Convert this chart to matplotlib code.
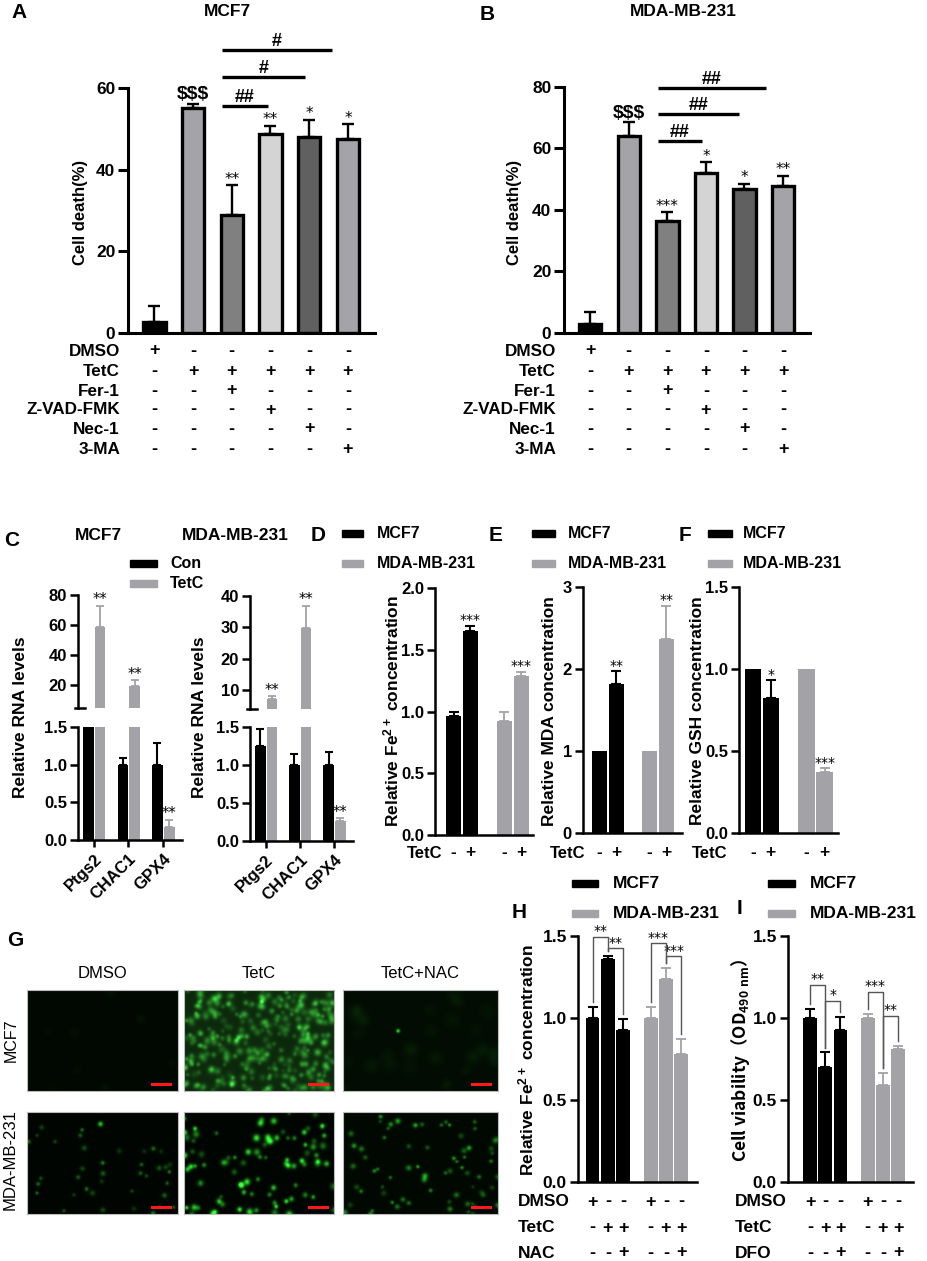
import numpy as np
import matplotlib
matplotlib.use("Agg")
import matplotlib.pyplot as plt
from matplotlib.patches import Rectangle
from matplotlib.transforms import blended_transform_factory

plt.rcParams['font.family'] = ['Liberation Sans', 'DejaVu Sans']
plt.rcParams['font.weight'] = 'bold'
plt.rcParams['mathtext.fontset'] = 'custom'
plt.rcParams['mathtext.rm'] = 'Liberation Sans:bold'
plt.rcParams['mathtext.default'] = 'regular'

W, H = 927, 1261
GRAY = '#a3a3a7'

# ---------------- data ----------------
treat_rows = ["DMSO", "TetC", "Fer-1", "Z-VAD-FMK", "Nec-1", "3-MA"]
treat_signs = [["+", "-", "-", "-", "-", "-"],
               ["-", "+", "+", "+", "+", "+"],
               ["-", "-", "+", "-", "-", "-"],
               ["-", "-", "-", "+", "-", "-"],
               ["-", "-", "-", "-", "+", "-"],
               ["-", "-", "-", "-", "-", "+"]]
bar_colors_ab = ["#000000", "#a4a4a8", "#808080", "#d4d4d4", "#606060", "#a4a4a8"]

mcf7_death = [2.7, 55.2, 29.0, 48.8, 47.9, 47.6]
mcf7_death_err = [4.0, 1.0, 7.2, 2.0, 4.3, 3.5]
mcf7_death_sig = ["", r"\$\$\$", "**", "**", "*", "*"]
mcf7_hash = ["##", "#", "#"]

mda_death = [3.0, 64.0, 36.3, 52.0, 46.8, 47.7]
mda_death_err = [3.8, 4.5, 2.9, 3.6, 1.8, 3.5]
mda_death_sig = ["", r"\$\$\$", "***", "*", "*", "**"]
mda_hash = ["##", "##", "##"]

genes = ["Ptgs2", "CHAC1", "GPX4"]
rna_mcf7_con = [1.5, 1.0, 1.0]
rna_mcf7_con_err = [0.0, 0.09, 0.29]
rna_mcf7_tetc = [59.0, 19.3, 0.17]
rna_mcf7_tetc_err = [13.9, 4.0, 0.10]
rna_mcf7_sig = ["**", "**", "**"]
rna_mda_con = [1.25, 1.0, 1.0]
rna_mda_con_err = [0.22, 0.15, 0.17]
rna_mda_tetc = [7.1, 29.9, 0.265]
rna_mda_tetc_err = [0.9, 7.0, 0.035]
rna_mda_sig = ["**", "**", "**"]

lines = ["MCF7", "MDA-MB-231"]
tetc_signs = ["-", "+", "-", "+"]
fe_conc = [0.963, 1.655, 0.922, 1.288]
fe_conc_err = [0.03, 0.04, 0.075, 0.033]
fe_sig = ["", "***", "", "***"]
mda_conc = [1.0, 1.82, 1.0, 2.36]
mda_conc_err = [0.0, 0.15, 0.0, 0.41]
mda_sig = ["", "**", "", "**"]
gsh_conc = [1.0, 0.826, 1.0, 0.375]
gsh_conc_err = [0.0, 0.105, 0.0, 0.02]
gsh_sig = ["", "*", "", "***"]

nac_rows = ["DMSO", "TetC", "NAC"]
dfo_rows = ["DMSO", "TetC", "DFO"]
rescue_signs = [["+", "-", "-", "+", "-", "-"],
                ["-", "+", "+", "-", "+", "+"],
                ["-", "-", "+", "-", "-", "+"]]
fe_nac = [1.0, 1.36, 0.924, 1.0, 1.236, 0.781]
fe_nac_err = [0.065, 0.02, 0.07, 0.065, 0.067, 0.092]
fe_nac_sig = ["**", "**", "***", "***"]
od_dfo = [1.0, 0.704, 0.924, 1.0, 0.59, 0.812]
od_dfo_err = [0.053, 0.086, 0.081, 0.023, 0.074, 0.02]
od_dfo_sig = ["**", "*", "***", "**"]

# ---------------- helpers ----------------
fig = plt.figure(figsize=(W / 100, H / 100), dpi=100)
fig.patch.set_facecolor('white')


def fx(x):
    return x / W


def fy(y):
    return 1 - y / H


def box(l, t, r, b):
    return fig.add_axes([l / W, 1 - b / H, (r - l) / W, (b - t) / H])


def txt(x, y, s, size=12, ha='center', rot=0, **kw):
    fig.text(fx(x), fy(y), s, ha=ha, va='center', fontsize=size, rotation=rot, **kw)


def style(ax, size=12, lw=1.8, tl=6):
    for s in ('top', 'right'):
        ax.spines[s].set_visible(False)
    for s in ('left', 'bottom'):
        ax.spines[s].set_linewidth(lw)
    ax.tick_params(axis='y', width=lw, length=tl, labelsize=size, pad=2)
    ax.tick_params(axis='x', bottom=False, labelbottom=False)
    ax.patch.set_alpha(0)


def star(ax, x, y, s, size=10, dy=1):
    ax.annotate(s, (x, y), xytext=(0, dy), textcoords='offset points', ha='center',
                va='baseline', fontsize=size, family='DejaVu Sans', fontweight='normal',
                annotation_clip=False)


def legend_pair(px0, px1, tx, ys, size=11):
    for y, c, name in zip(ys, ['k', GRAY], lines):
        fig.add_artist(Rectangle((fx(px0), fy(y + 3.5)), (px1 - px0) / W, 7 / H,
                                 transform=fig.transFigure, color=c))
        txt(tx, y, name, size=size, ha='left')


def sign_rows(ax, xs, names, table, ys, name_x, name_ha, size=12, sign_size=12.5):
    tr = blended_transform_factory(ax.transData, fig.transFigure)
    for name, row, y in zip(names, table, ys):
        txt(name_x, y, name, size=size, ha=name_ha)
        for xv, s in zip(xs, row):
            ax.text(xv, fy(y), s, transform=tr, ha='center', va='center', fontsize=sign_size,
                    clip_on=False)


def up_err(ax, xs, vals, errs, color, lw=1.5, cap=3.3):
    xs = np.asarray(xs, float)
    vals = np.asarray(vals, float)
    errs = np.asarray(errs, float)
    m = errs > 0
    ax.errorbar(xs[m], vals[m], yerr=[np.zeros(m.sum()), errs[m]], fmt='none', ecolor=color,
                elinewidth=lw, capsize=cap, capthick=lw, zorder=3)


# ---------------- A / B : cell death ----------------
def death_panel(rect, ymax, yticks, vals, errs, sig, hashes, hash_y, hash_end,
                title, title_x, ylab_x, name_x):
    ax = box(*rect)
    x = np.arange(len(vals))
    ax.bar(x, vals, 0.58, color=bar_colors_ab, edgecolor='k', linewidth=2.4, zorder=2)
    up_err(ax, x, vals, errs, 'k', lw=1.7, cap=4.3)
    ax.set_xlim(-0.68, 5.7)
    ax.set_ylim(0, ymax)
    ax.set_yticks(yticks)
    style(ax, 12.5, 2.2, 7)
    for xi, v, e, s in zip(x, vals, errs, sig):
        if s.startswith('\\$'):
            ax.annotate(s, (xi, v + e), xytext=(0, 3), textcoords='offset points', ha='center',
                        va='baseline', fontsize=14, annotation_clip=False)
        elif s:
            star(ax, xi, v + e, s, size=11)
    for end, yh, s in zip(hash_end, hash_y, hashes):
        ax.plot([1.75, end], [yh, yh], color='k', lw=2.4, clip_on=False, solid_capstyle='butt')
        ax.annotate(s, ((1.75 + end) / 2, yh), xytext=(0, 3), textcoords='offset points',
                    ha='center', va='baseline', fontsize=13, annotation_clip=False)
    txt(title_x, 12, title, size=12.5)
    txt(ylab_x, 212, "Cell death(%)", size=12, rot=90)
    sign_rows(ax, x, treat_rows, treat_signs, [351, 371, 391, 410, 429, 449], name_x, 'right',
              size=12.3, sign_size=13)
    return ax


death_panel((128, 88, 375, 333), 60, [0, 20, 40, 60], mcf7_death, mcf7_death_err,
            mcf7_death_sig, mcf7_hash, [55.6, 62.7, 69.3], [2.94, 3.89, 4.59],
            "MCF7", 227, 80, 120)
death_panel((564, 87, 810, 333), 80, [0, 20, 40, 60, 80], mda_death, mda_death_err,
            mda_death_sig, mda_hash, [62.4, 71.2, 79.7], [2.9, 3.86, 4.56],
            "MDA-MB-231", 683, 515, 556)
txt(19, 12, "A", size=15)
txt(487, 15, "B", size=15)


# ---------------- C : broken axis RNA levels ----------------
def rna_panel(l, r, up, lo, up_lim, up_ticks, con, con_err, tet, tet_err, sig, ylab_x):
    ax_u = box(l, up[0], r, up[1])
    ax_l = box(l, lo[0], r, lo[1])
    x = np.arange(3)
    for ax in (ax_u, ax_l):
        ax.bar(x - 0.16, con, 0.31, color='k', zorder=2)
        ax.bar(x + 0.18, tet, 0.31, color=GRAY, zorder=2)
        up_err(ax, x - 0.16, con, con_err, 'k', lw=1.5, cap=3)
        up_err(ax, x + 0.18, tet, tet_err, GRAY, lw=1.3, cap=3)
        ax.set_xlim(-0.46, 2.55)
        style(ax, 12, 1.8, 6)
    ax_u.set_ylim(*up_lim)
    ax_u.set_yticks(up_ticks)
    ax_u.spines['bottom'].set_visible(False)
    ax_u.plot([-0.03, 0.07], [0, 0], transform=ax_u.transAxes, color='k', lw=1.8, clip_on=False)
    ax_l.set_ylim(0, 1.5)
    ax_l.set_yticks([0, 0.5, 1.0, 1.5])
    ax_l.set_yticklabels(["0.0", "0.5", "1.0", "1.5"])
    ax_l.set_xticks(x)
    ax_l.set_xticklabels(genes, rotation=45, ha='right', rotation_mode='anchor', fontsize=12)
    ax_l.tick_params(axis='x', bottom=True, labelbottom=True, length=5, width=1.8, pad=3)
    for xi, v, e, s in zip(x, tet, tet_err, sig):
        top = v + e
        star(ax_u if top > 1.5 else ax_l, xi + 0.18, top, s, size=10.5)
    txt(ylab_x, 717, "Relative RNA levels", size=12.5, rot=90)


rna_panel(78, 182, (595, 708), (727, 840), (5, 80), [20, 40, 60, 80], rna_mcf7_con,
          rna_mcf7_con_err, rna_mcf7_tetc, rna_mcf7_tetc_err, rna_mcf7_sig, 21)
rna_panel(250, 353, (596, 709), (727, 841), (4, 40), [10, 20, 30, 40], rna_mda_con,
          rna_mda_con_err, rna_mda_tetc, rna_mda_tetc_err, rna_mda_sig, 200)
txt(98, 535, "MCF7", size=12.5)
txt(235, 535, "MDA-MB-231", size=12.5)
txt(12, 541, "C", size=15)
for y, c, name in zip([563, 583], ['k', GRAY], ["Con", "TetC"]):
    fig.add_artist(Rectangle((fx(130), fy(y + 3.5)), 27 / W, 7 / H,
                             transform=fig.transFigure, color=c))
    txt(170, y, name, size=11.5, ha='left')


# ---------------- D / E / F ----------------
xs4 = np.array([0, 1, 3, 4])


def conc_panel(rect, xlim, vals, errs, sig, ylim, yticks, ylabels, ylab, ylab_x,
               leg, letter, tetc_x):
    ax = box(*rect)
    cols = ['k', 'k', GRAY, GRAY]
    ax.bar(xs4, vals, 0.92, color=cols, zorder=2)
    up_err(ax, xs4[:2], vals[:2], errs[:2], 'k', lw=1.5)
    up_err(ax, xs4[2:], vals[2:], errs[2:], GRAY, lw=1.3)
    ax.set_xlim(*xlim)
    ax.set_ylim(*ylim)
    ax.set_yticks(yticks)
    ax.set_yticklabels(ylabels)
    style(ax, 12, 1.8, 6)
    for xi, v, e, s in zip(xs4, vals, errs, sig):
        if s:
            star(ax, xi, v + e, s, size=10)
    txt(ylab_x, 711, ylab, size=12.5, rot=90)
    legend_pair(leg[0], leg[1], leg[2], [533, 563], size=11.5)
    txt(letter[1], 535, letter[0], size=15)
    sign_rows(ax, xs4, ["TetC"], [tetc_signs], [853], tetc_x, 'left')


conc_panel((435, 588, 533, 835), (-1.09, 4.68), fe_conc, fe_conc_err, fe_sig, (0, 2),
           [0, 0.5, 1.0, 1.5, 2.0], ["0.0", "0.5", "1.0", "1.5", "2.0"],
           "Relative Fe$^{2+}$ concentration", 391, (342, 363, 377), ("D", 318), 407)
conc_panel((583, 587, 682, 833), (-0.99, 4.93), mda_conc, mda_conc_err, mda_sig, (0, 3),
           [0, 1, 2, 3], ["0", "1", "2", "3"],
           "Relative MDA concentration", 550, (532, 555, 568), ("E", 496), 550)
conc_panel((739, 587, 838, 833), (-0.78, 4.75), gsh_conc, gsh_conc_err, gsh_sig, (0, 1.5),
           [0, 0.5, 1.0, 1.5], ["0.0", "0.5", "1.0", "1.5"],
           "Relative GSH concentration", 697, (708, 732, 743), ("F", 685), 692)


# ---------------- G : fluorescence images ----------------
def micrograph(rect, bg, n, r, amp, seed, spots=(), red=0.2):
    ax = box(*rect)
    h, w = 100, 150
    rng = np.random.default_rng(seed)  # texture for the photo only
    yy, xx = np.mgrid[0:h, 0:w]
    g = np.full((h, w), bg, float)
    for _ in range(n):
        cx, cy = rng.uniform(0, w), rng.uniform(0, h)
        rr = r * rng.uniform(0.7, 1.3)
        a = amp * rng.uniform(0.3, 1.0)
        g += a * np.exp(-((xx - cx) ** 2 + (yy - cy) ** 2) / (2 * rr ** 2))
    for sx, sy, sr, sa in spots:
        g += sa * np.exp(-((xx - sx * w) ** 2 + (yy - sy * h) ** 2) / (2 * sr ** 2))
    img = np.clip(np.dstack([red * g, g, red * g]), 0, 1)
    ax.imshow(img, aspect='auto', interpolation='bilinear')
    ax.set_xticks([])
    ax.set_yticks([])
    for s in ax.spines.values():
        s.set_color('#bbbbbb')
        s.set_linewidth(0.8)
    ax.plot([0.83, 0.95], [0.07, 0.07], transform=ax.transAxes, color='#ff1a1a', lw=2.2)


cols_px = [(27, 178), (184, 334), (343, 498)]
micrograph((27, 990, 178, 1091), 0.03, 8, 3.0, 0.05, 1)
micrograph((184, 990, 334, 1091), 0.16, 340, 1.9, 0.38, 2, red=0.3)
micrograph((343, 990, 498, 1091), 0.05, 25, 4.0, 0.07, 3, spots=[(0.35, 0.4, 1.2, 0.9)])
micrograph((27, 1112, 178, 1214), 0.02, 40, 1.4, 0.5, 4)
micrograph((184, 1112, 334, 1214), 0.02, 90, 1.8, 0.95, 5)
micrograph((343, 1112, 498, 1214), 0.03, 70, 1.5, 0.65, 6)
for (l, r), name in zip(cols_px, ["DMSO", "TetC", "TetC+NAC"]):
    txt((l + r) / 2, 973, name, size=12, fontweight='normal')
txt(11, 1040, "MCF7", size=11.5, rot=90, fontweight='normal')
txt(10, 1160, "MDA-MB-231", size=12, rot=90, fontweight='normal')
txt(15, 941, "G", size=15)

# ---------------- H / I ----------------
xs6 = np.array([0, 1, 2, 3.8, 4.8, 5.8])


def rescue_panel(rect, xlim, vals, errs, sig, levels, ylab, ylab_x, leg, letter,
                 row_names, name_x, ylab_kw=None):
    ax = box(*rect)
    cols = ['k', 'k', 'k', GRAY, GRAY, GRAY]
    ax.bar(xs6, vals, 0.9, color=cols, zorder=2)
    up_err(ax, xs6[:3], vals[:3], errs[:3], 'k', lw=1.5)
    up_err(ax, xs6[3:], vals[3:], errs[3:], GRAY, lw=1.3)
    ax.set_xlim(*xlim)
    ax.set_ylim(0, 1.5)
    ax.set_yticks([0, 0.5, 1.0, 1.5])
    ax.set_yticklabels(["0.0", "0.5", "1.0", "1.5"])
    style(ax, 12.5, 1.8, 6)
    tops = np.asarray(vals) + np.asarray(errs)
    for (i, j), lev, s in zip([(0, 1), (1, 2), (3, 4), (4, 5)], levels, sig):
        ax.plot([xs6[i], xs6[i], xs6[j], xs6[j]], [tops[i] + 0.03, lev, lev, tops[j] + 0.03],
                color='#555555', lw=1.0, clip_on=False, zorder=4)
        star(ax, (xs6[i] + xs6[j]) / 2, lev, s, size=10)
    txt(ylab_x, 1060, ylab, size=12.5, rot=90, **(ylab_kw or {}))
    legend_pair(leg[0], leg[1], leg[2], [883, 913], size=12.5)
    txt(letter[1], letter[2], letter[0], size=15)
    sign_rows(ax, xs6, row_names, rescue_signs, [1202, 1228, 1253], name_x, 'left',
              size=12.5, sign_size=13)


rescue_panel((578, 936, 697, 1182), (-0.95, 6.83), fe_nac, fe_nac_err, fe_nac_sig,
             [1.496, 1.425, 1.455, 1.378], "Relative Fe$^{2+}$ concentration", 526,
             (572, 598, 613), ("H", 519, 913), nac_rows, 518)
rescue_panel((788, 936, 913, 1182), (-1.45, 6.78), od_dfo, od_dfo_err, od_dfo_sig,
             [1.202, 1.106, 1.161, 1.013], "Cell viability（OD$_{490\\ nm}$）", 740,
             (768, 795, 810), ("I", 739, 908), dfo_rows, 735,
             ylab_kw={'family': ['Noto Sans CJK SC']})

fig.savefig("out.png", dpi=100, facecolor='white')
